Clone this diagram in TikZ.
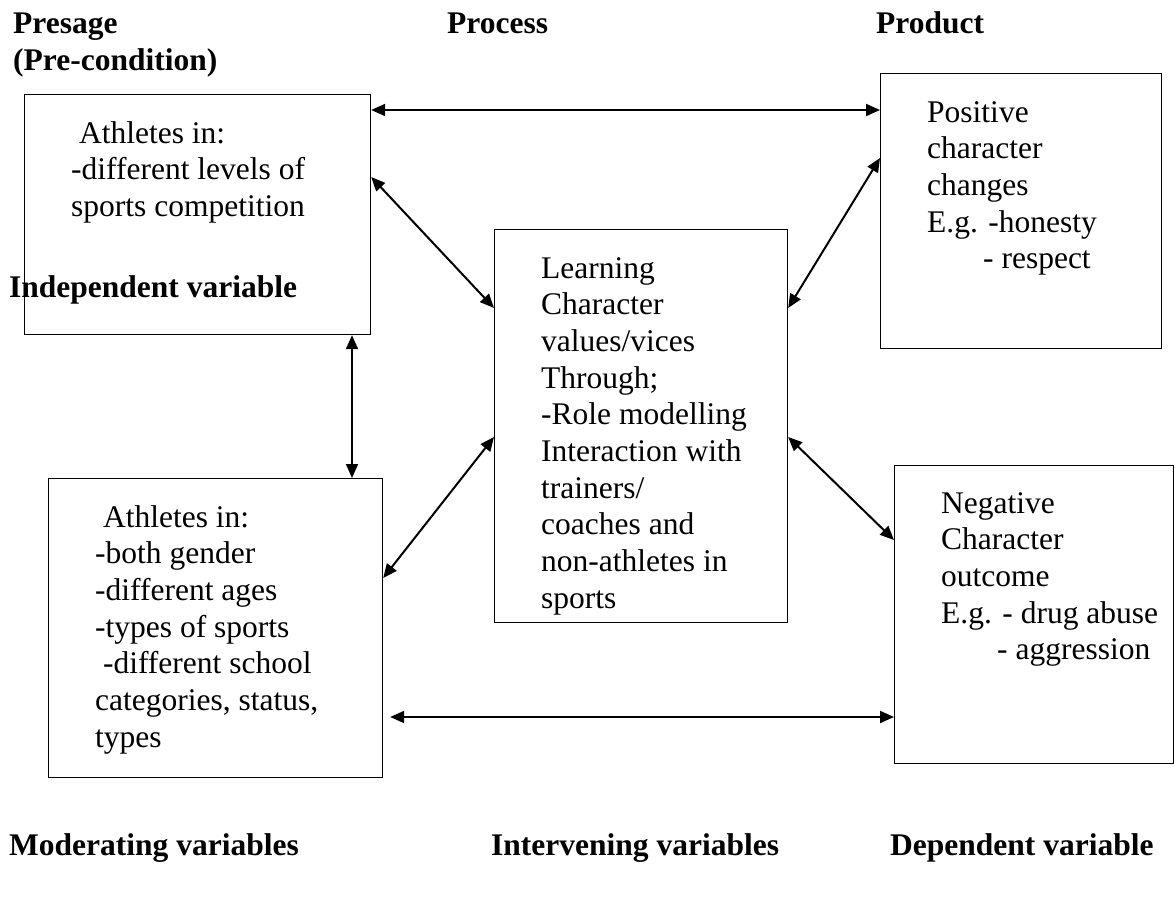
\documentclass[tikz,border=0pt]{standalone}
\usepackage{fontspec}
\setmainfont{Liberation Serif}
\usetikzlibrary{arrows.meta,calc}
\newcommand{\lines}[1]{\begin{tabular}[t]{@{}l@{}}#1\end{tabular}}
\begin{document}
\begin{tikzpicture}[x=1pt,y=-1pt,
  box/.style={draw,line width=1.2pt,inner sep=0pt,anchor=north west},
  txt/.style={inner sep=0pt,anchor=base west,font=\fontsize{31.5}{36.7}\selectfont},
  hdr/.style={inner sep=0pt,anchor=base west,font=\fontsize{31.5}{37}\selectfont\bfseries},
  dbl/.style={line width=2pt,{Triangle[length=14pt,width=12pt]}-{Triangle[length=14pt,width=12pt]}}]
\useasboundingbox (0,0) rectangle (1175,897);
% boxes
\node[box,minimum width=346pt,minimum height=240pt] (A) at (24,94) {};
\node[box,minimum width=293pt,minimum height=393pt] (B) at (494,229) {};
\node[box,minimum width=281pt,minimum height=275pt] (C) at (880,73) {};
\node[box,minimum width=334pt,minimum height=299pt] (D) at (48,478) {};
\node[box,minimum width=279pt,minimum height=298pt] (E) at (894,465) {};
% headers
\node[hdr] (h1) at (13,33) {\lines{Presage\\(Pre-condition)}};
\node[hdr] (h2) at (447,33) {Process};
\node[hdr] (h3) at (876,33) {Product};
\node[hdr] (h4) at (9,297) {Independent variable};
\node[hdr] (h5) at (9,855) {Moderating variables};
\node[hdr] (h6) at (491,855) {Intervening variables};
\node[hdr] (h7) at (890,855) {Dependent variable};
% box texts
\node[txt] (tA) at (71,143) {\lines{\ Athletes in:\\-different levels of\\sports competition}};
\node[txt] (tB) at (541,278) {\lines{Learning\\Character\\values/vices\\Through;\\-Role modelling\\Interaction with\\trainers/\\coaches and\\non-athletes in\\sports}};
\node[txt] (tC) at (927,122) {\lines{Positive\\character\\changes\\E.g. -honesty\\\hspace*{56pt}- respect}};
\node[txt] (tD) at (95,527) {\lines{\ Athletes in:\\-both gender\\-different ages\\-types of sports\\\ -different school\\categories, status,\\types}};
\node[txt] (tE) at (941,513) {\lines{Negative\\Character\\outcome\\E.g. - drug abuse\\\hspace*{56pt}- aggression}};
% connectors
\draw[dbl] (A.north east |- 0,110) -- (C.north west |- 0,110);
\draw[dbl] (A.north east |- 0,177) -- (B.north west |- 0,308);
\draw[dbl] (C.north west |- 0,158) -- (B.north east |- 0,308);
\draw[dbl] (A.south west -| 352,0) -- (D.north west -| 352,0);
\draw[dbl] (D.north east |- 0,578) -- (B.north west |- 0,437);
\draw[dbl] (B.north east |- 0,437) -- (E.north west |- 0,540);
\draw[dbl] ([xshift=7pt]D.north east |- 0,717) -- (E.north west |- 0,717);
\end{tikzpicture}
\end{document}
